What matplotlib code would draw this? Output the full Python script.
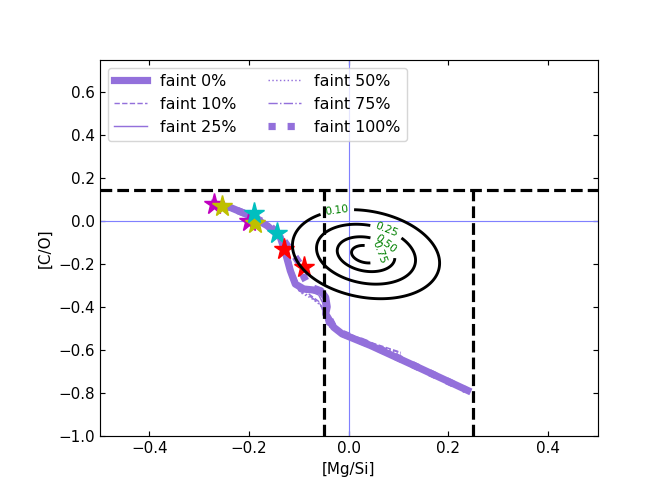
import numpy as np
import matplotlib
matplotlib.use("Agg")
import matplotlib.pyplot as plt

# ---- track data ([Mg/Si], [C/O]) ----
f0_x = [-0.27, -0.237, -0.197, -0.163, -0.137, -0.127, -0.117, -0.107, -0.09, -0.056, -0.046, -0.043, -0.046, -0.03, -0.013, 0.044, 0.138, 0.239]
f0_y = [0.08, 0.062, 0.023, -0.023, -0.077, -0.147, -0.232, -0.294, -0.317, -0.325, -0.356, -0.40, -0.433, -0.495, -0.526, -0.58, -0.68, -0.789]

f10_x = [-0.265, -0.23, -0.19, -0.155, -0.13, -0.12, -0.112, -0.098, -0.08, -0.06, -0.052, -0.048, -0.035, 0.0, 0.05, 0.105]
f10_y = [0.068, 0.045, 0.008, -0.035, -0.09, -0.16, -0.24, -0.31, -0.34, -0.375, -0.41, -0.45, -0.49, -0.525, -0.57, -0.612]

f25_x = [-0.26, -0.225, -0.19, -0.155, -0.13, -0.12, -0.112, -0.10, -0.08, -0.06, -0.05, -0.046, -0.03, -0.01, 0.05, 0.14, 0.238]
f25_y = [0.075, 0.052, 0.015, -0.03, -0.085, -0.155, -0.235, -0.30, -0.325, -0.345, -0.39, -0.44, -0.50, -0.53, -0.585, -0.682, -0.785]

f50_x = [-0.262, -0.228, -0.19, -0.16, -0.135, -0.125, -0.116, -0.096, -0.075, -0.055, -0.05, -0.04, -0.01, 0.05, 0.105]
f50_y = [0.068, 0.043, 0.005, -0.038, -0.09, -0.16, -0.245, -0.335, -0.36, -0.395, -0.43, -0.49, -0.532, -0.58, -0.62]

f75_x = [-0.258, -0.225, -0.188, -0.155, -0.132, -0.122, -0.114, -0.1, -0.078, -0.058, -0.05, -0.044, -0.015, 0.04, 0.1]
f75_y = [0.071, 0.047, 0.009, -0.035, -0.09, -0.16, -0.24, -0.325, -0.35, -0.385, -0.42, -0.48, -0.53, -0.572, -0.61]

f100_x = [-0.26, -0.225, -0.19, -0.16, -0.14, -0.115, -0.095, -0.09, -0.08, -0.06, -0.047, -0.044, -0.03, -0.01, 0.05, 0.14, 0.235]
f100_y = [0.075, 0.05, 0.018, -0.02, -0.06, -0.14, -0.21, -0.26, -0.305, -0.322, -0.355, -0.43, -0.495, -0.526, -0.583, -0.682, -0.786]

# ---- star markers ----
star_m_x = [-0.27, -0.2]
star_m_y = [0.077, 0.0]
star_y_x = [-0.254, -0.187]
star_y_y = [0.07, -0.008]
star_c_x = [-0.19, -0.143]
star_c_y = [0.038, -0.054]
star_r_x = [-0.13, -0.09]
star_r_y = [-0.131, -0.216]

# ---- observed distribution (normalised density) ----
obs_center = (0.035, -0.155)
obs_scale = (0.077, 0.108)
obs_rho = -0.2
obs_shape = 1.28
contour_levels = [0.10, 0.25, 0.50, 0.75]
label_pos = [(-0.022, 0.03), (0.074, -0.056), (0.078, -0.10), (0.064, -0.145)]

# ---- reference limits ----
co_limit = 0.145
mgsi_limits = [-0.05, 0.25]

track_color = "mediumpurple"

fig = plt.figure(figsize=(6.4, 4.8), dpi=103.75)
ax = fig.add_subplot(111)
fig.subplots_adjust(left=0.15, right=0.9, top=0.88, bottom=0.125)

ax.axhline(0, color="#8080ff", lw=0.8)
ax.axvline(0, color="#8080ff", lw=0.8)

ax.plot(f0_x, f0_y, color=track_color, lw=5, ls="-", label="faint 0%")
ax.plot(f10_x, f10_y, color=track_color, lw=1, ls="--", label="faint 10%")
ax.plot(f25_x, f25_y, color=track_color, lw=1, ls="-", label="faint 25%")
ax.plot(f50_x, f50_y, color=track_color, lw=1, ls=":", label="faint 50%")
ax.plot(f75_x, f75_y, color=track_color, lw=1, ls="-.", label="faint 75%")
ax.plot(f100_x, f100_y, color=track_color, lw=5, ls=":", label="faint 100%")

ms = 15
ax.plot(star_m_x, star_m_y, "*", color="m", ms=ms, ls="none")
ax.plot(star_y_x, star_y_y, "*", color="y", ms=ms, ls="none")
ax.plot(star_c_x, star_c_y, "*", color="c", ms=ms, ls="none")
ax.plot(star_r_x, star_r_y, "*", color="r", ms=ms, ls="none")

gx = np.linspace(-0.5, 0.5, 401)
gy = np.linspace(-1.0, 0.75, 401)
X, Y = np.meshgrid(gx, gy)
u = (X - obs_center[0]) / obs_scale[0]
v = (Y - obs_center[1]) / obs_scale[1]
q = (u**2 - 2 * obs_rho * u * v + v**2) / (1 - obs_rho**2)
Z = np.exp(-np.sqrt(q) ** obs_shape)
cs = ax.contour(X, Y, Z, levels=contour_levels, colors="k", linewidths=2)
ax.clabel(cs, fmt="%.2f", fontsize=7.5, colors="green", inline=True, manual=label_pos)

ax.axhline(co_limit, color="k", lw=2.2, ls="--")
for xv in mgsi_limits:
    ax.plot([xv, xv], [-1.0, co_limit], color="k", lw=2.2, ls="--")

ax.set_xlim(-0.5, 0.5)
ax.set_ylim(-1.0, 0.75)
ax.set_xlabel("[Mg/Si]", fontsize=10.5)
ax.set_ylabel("[C/O]", fontsize=10.5)
ax.tick_params(direction="in", top=True, right=True, labelsize=10.5)
ax.legend(loc="upper left", ncol=2, fontsize=11, handlelength=2.1)

fig.savefig("out.png", dpi=103.75)
